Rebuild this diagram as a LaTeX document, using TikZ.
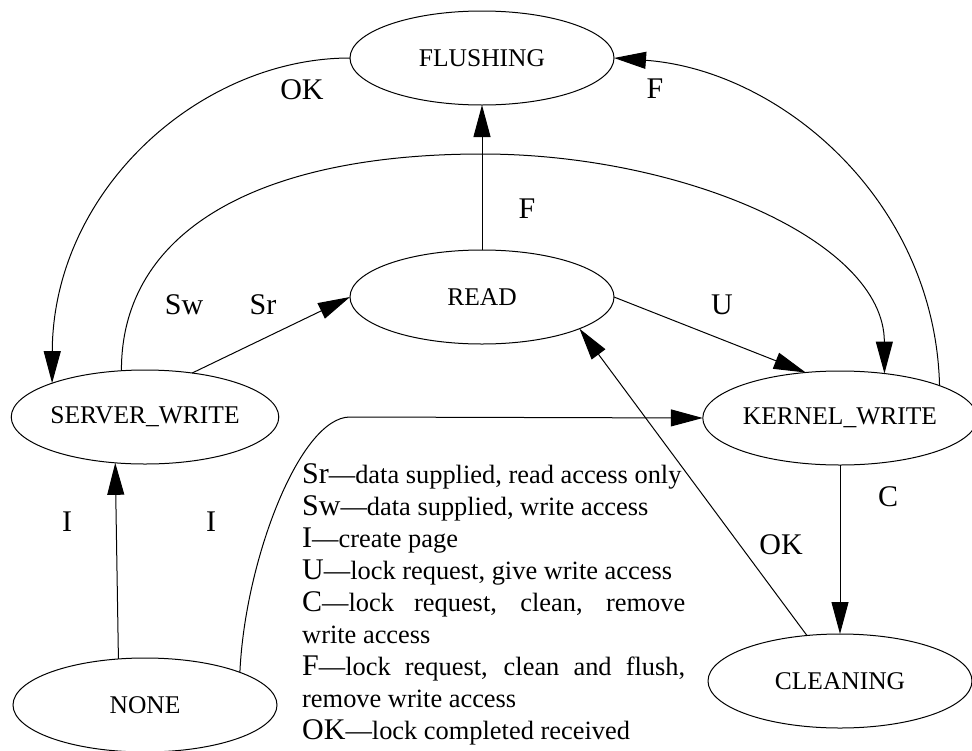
\documentclass[tikz,border=0pt]{standalone}
\usepackage{fontspec}
\setmainfont{Liberation Serif}
\usetikzlibrary{shapes.geometric,arrows.meta}
\newcommand\lkey[1]{{\fontsize{30}{32}\selectfont #1}}
\begin{document}
\begin{tikzpicture}[x=1pt,y=-1pt,
  state/.style={ellipse,draw,line width=1pt,minimum width=264pt,minimum height=94pt,inner sep=0pt,outer sep=0pt,font=\fontsize{25.5}{30}\selectfont},
  tr/.style={line width=1pt,-{Triangle[length=32pt,width=17pt]}},
  lbl/.style={inner sep=0pt,font=\fontsize{30}{34}\selectfont},
  leg/.style={anchor=base west,inner sep=0pt,font=\fontsize{26.4}{32}\selectfont}]
\useasboundingbox (0,0) rectangle (972,750);

\node[state] (fl) at (482,58) {FLUSHING};
\node[state] (rd) at (482,297) {READ};
\node[state] (sw) at (145,417) {SERVER\_WRITE};
\node[state] (kw) at (840,418) {KERNEL\_WRITE};
\node[state] (no) at (145,705) {NONE};
\node[state] (cl) at (840,681) {CLEANING};

% edges
\draw[tr] (rd.90) -- (fl.270);
\draw[tr] (sw.43) -- (rd.180);
\draw[tr] (sw.117.5) .. controls (121,230) and (260,154) .. (482,154)
   .. controls (680,154) and (884,240) .. (kw.45);
\draw[tr] (fl.180) .. controls (200,58) and (53,190) .. (sw.160);
\draw[tr] (kw.18.9) .. controls (935,200) and (780,70) .. (fl.0);
\draw[tr] (rd.0) -- (kw.127.7);
\draw[tr] (no.120.4) -- (sw.237);
\draw[tr] (no.19.3) .. controls (245,560) and (300,417) .. (350,417) -- (kw.180);
\draw[tr] (cl.126.8) -- (rd.-18.6);
\draw[tr] (kw.270) -- (cl.90);

% edge labels
\node[lbl] (lok1) at (302,90) {OK};
\node[lbl] (lf1) at (655,89) {F};
\node[lbl] (lf2) at (527,209) {F};
\node[lbl] (lsw) at (184,305) {Sw};
\node[lbl] (lsr) at (263,305) {Sr};
\node[lbl] (lu) at (722,305) {U};
\node[lbl] (li1) at (67,522) {I};
\node[lbl] (li2) at (211,522) {I};
\node[lbl] (lc) at (888,497) {C};
\node[lbl] (lok2) at (781,545) {OK};

% legend
\node[leg] (g1) at (302,483) {\lkey{Sr}---data supplied, read access only};
\node[leg] (g2) at (302,515) {\lkey{Sw}---data supplied, write access};
\node[leg] (g3) at (302,547) {\lkey{I}---create page};
\node[leg] (g4) at (302,579) {\lkey{U}---lock request, give write access};
\node[leg] (g5) at (302,611) {\makebox[383pt][s]{\lkey{C}---lock request, clean, remove}};
\node[leg] (g6) at (302,643) {write access};
\node[leg] (g7) at (302,675) {\makebox[383pt][s]{\lkey{F}---lock request, clean and flush,}};
\node[leg] (g8) at (302,707) {remove write access};
\node[leg] (g9) at (302,739) {\lkey{OK}---lock completed received};
\end{tikzpicture}
\end{document}
